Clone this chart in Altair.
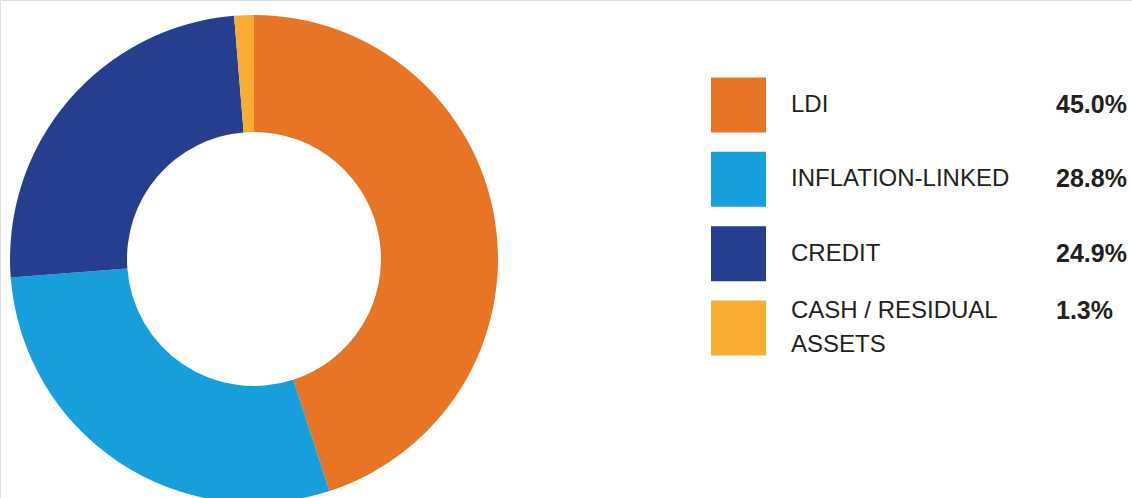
import altair as alt
import pandas as pd

categories = ["LDI", "INFLATION-LINKED", "CREDIT", "CASH / RESIDUAL\nASSETS"]
values = [45.0, 28.8, 24.9, 1.3]
pct_labels = ["45.0%", "28.8%", "24.9%", "1.3%"]
colors = ["#E87425", "#179FDB", "#253F8E", "#F9AE33"]
order = [0, 1, 2, 3]

df = pd.DataFrame({
    "category": categories,
    "value": values,
    "pct": pct_labels,
    "order": order,
})
df["nlines"] = df["category"].str.count("\n") + 1

color_scale = alt.Scale(domain=categories, range=colors)
y_enc = alt.Y("category:N", sort=categories,
              scale=alt.Scale(range=[105, 328], padding=0), axis=None)

donut = alt.Chart(df).mark_arc(innerRadius=127, outerRadius=244).encode(
    theta=alt.Theta("value:Q", stack=True),
    color=alt.Color("category:N", scale=color_scale, legend=None),
    order=alt.Order("order:Q"),
    x=alt.value(254),
    y=alt.value(259),
)

squares = alt.Chart(df).mark_square(size=3025, opacity=1, filled=True).encode(
    x=alt.value(738.5),
    y=y_enc,
    color=alt.Color("category:N", scale=color_scale, legend=None),
)

base = alt.Chart(df)
label_style = dict(align="left", baseline="middle", font="Liberation Sans",
                   fontSize=24, lineBreak="\n", lineHeight=34, color="#231F20")
pct_style = dict(align="left", baseline="middle", font="Liberation Sans",
                 fontSize=25, fontWeight="bold", color="#231F20")

labels1 = base.transform_filter("datum.nlines == 1").mark_text(**label_style).encode(
    x=alt.value(791), y=y_enc, text="category:N")
labels2 = base.transform_filter("datum.nlines > 1").mark_text(dy=-17, **label_style).encode(
    x=alt.value(791), y=y_enc, text="category:N")
pcts1 = base.transform_filter("datum.nlines == 1").mark_text(**pct_style).encode(
    x=alt.value(1056), y=y_enc, text="pct:N")
pcts2 = base.transform_filter("datum.nlines > 1").mark_text(dy=-17, **pct_style).encode(
    x=alt.value(1056), y=y_enc, text="pct:N")

chart = alt.layer(donut, squares, labels1, labels2, pcts1, pcts2).properties(
    width=1132, height=498,
    autosize=alt.AutoSizeParams(type="none"),
    padding=0,
).configure_view(stroke=None).configure(background="white")

chart.save("out.html", embed_options={"renderer": "svg", "actions": False})
